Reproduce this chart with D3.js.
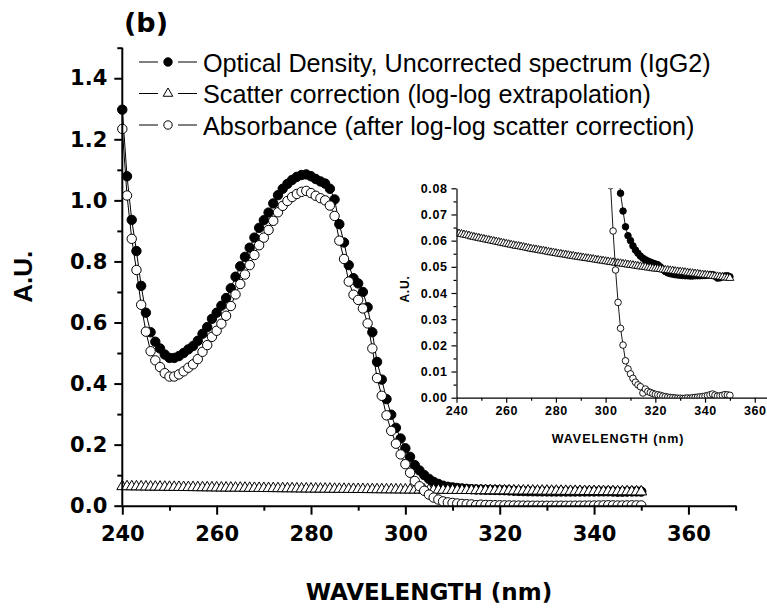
<!DOCTYPE html>
<html>
<head>
<meta charset="utf-8">
<script src="https://cdn.jsdelivr.net/npm/d3@7"></script>
<style>
  html, body { margin: 0; padding: 0; background: #fff; }
  svg { display: block; }
</style>
</head>
<body>
<svg id="chart" width="767" height="613"></svg>
<script>
// Wavelength grid (nm), one reading per nanometre
const wavelength = d3.range(240, 351);

// Optical density, uncorrected spectrum (IgG2)
const opticalDensity = [
  1.297, 1.079, 0.936, 0.834, 0.720, 0.632, 0.568, 0.537, 0.515, 0.495,
  0.484, 0.484, 0.490, 0.500, 0.512, 0.523, 0.540, 0.563, 0.585, 0.612,
  0.632, 0.655, 0.680, 0.712, 0.750, 0.784, 0.815, 0.845, 0.878, 0.910,
  0.935, 0.960, 0.990, 1.017, 1.038, 1.054, 1.067, 1.077, 1.083, 1.085,
  1.079, 1.070, 1.062, 1.055, 1.038, 1.003, 0.922, 0.862, 0.788, 0.745,
  0.728, 0.700, 0.650, 0.568, 0.471, 0.413, 0.349, 0.298, 0.255, 0.220,
  0.188, 0.160, 0.133, 0.1154, 0.1003, 0.0878, 0.0781, 0.0713, 0.0653, 0.0619,
  0.0600, 0.0580, 0.0564, 0.0552, 0.0541, 0.0533, 0.0527, 0.0522, 0.0518, 0.0514,
  0.0511, 0.0508, 0.0500, 0.0490, 0.0482, 0.0477, 0.0474, 0.0472, 0.0470, 0.0469,
  0.0468, 0.0467, 0.0466, 0.0466, 0.0465, 0.0465, 0.0466, 0.0466, 0.0466, 0.0467,
  0.0467, 0.0468, 0.0469, 0.0470, 0.0464, 0.0457, 0.0458, 0.0462, 0.0465, 0.0466, 0.0462
];

// Scatter correction (log-log extrapolation)
const scatterCorrection = [
  0.0629, 0.0627, 0.0625, 0.0623, 0.0621, 0.0619, 0.0616, 0.0614, 0.0612, 0.0610,
  0.0608, 0.0606, 0.0604, 0.0602, 0.0600, 0.0598, 0.0596, 0.0594, 0.0592, 0.0590,
  0.0588, 0.0586, 0.0584, 0.0582, 0.0580, 0.0579, 0.0577, 0.0575, 0.0573, 0.0571,
  0.0569, 0.0567, 0.0566, 0.0564, 0.0562, 0.0561, 0.0559, 0.0557, 0.0555, 0.0554,
  0.0552, 0.0550, 0.0549, 0.0547, 0.0546, 0.0544, 0.0542, 0.0541, 0.0539, 0.0538,
  0.0536, 0.0535, 0.0533, 0.0532, 0.0530, 0.0529, 0.0527, 0.0526, 0.0524, 0.0523,
  0.0521, 0.0520, 0.0518, 0.0517, 0.0515, 0.0514, 0.0513, 0.0511, 0.0510, 0.0508,
  0.0507, 0.0506, 0.0504, 0.0503, 0.0501, 0.0500, 0.0499, 0.0497, 0.0496, 0.0494,
  0.0493, 0.0492, 0.0491, 0.0489, 0.0488, 0.0487, 0.0486, 0.0485, 0.0483, 0.0482,
  0.0481, 0.0480, 0.0479, 0.0477, 0.0476, 0.0475, 0.0474, 0.0473, 0.0471, 0.0470,
  0.0469, 0.0468, 0.0467, 0.0465, 0.0464, 0.0463, 0.0462, 0.0461, 0.0459, 0.0458, 0.0457
];

// Absorbance after log-log scatter correction
const absorbance = [
  1.234, 1.016, 0.874, 0.772, 0.658, 0.570, 0.506, 0.476, 0.454, 0.434,
  0.423, 0.423, 0.430, 0.440, 0.452, 0.463, 0.480, 0.504, 0.526, 0.553,
  0.573, 0.596, 0.622, 0.654, 0.692, 0.726, 0.757, 0.788, 0.821, 0.853,
  0.878, 0.903, 0.933, 0.961, 0.982, 0.998, 1.011, 1.021, 1.028, 1.031,
  1.024, 1.015, 1.007, 1.000, 0.983, 0.949, 0.868, 0.808, 0.734, 0.691,
  0.674, 0.646, 0.597, 0.515, 0.418, 0.360, 0.296, 0.245, 0.203, 0.168,
  0.136, 0.108, 0.081, 0.0637, 0.0488, 0.0364, 0.0265, 0.0201, 0.0141, 0.0110,
  0.0091, 0.0074, 0.0059, 0.0049, 0.0042, 0.0018, 0.0033, 0.0024, 0.0020, 0.0016,
  0.0013, 0.0011, 0.0009, 0.0006, 0.0004, 0.0002, 0.0001, 0.0000, -0.0001, -0.0002,
  -0.0002, -0.0003, -0.0002, -0.0001, -0.0002, 0.0000, 0.0001, 0.0002, 0.0003, 0.0004,
  0.0006, 0.0008, 0.0011, 0.0014, 0.0010, 0.0006, 0.0007, 0.0009, 0.0012, 0.0011, 0.0009
];

const legendLabels = [
  "Optical Density, Uncorrected spectrum (IgG2)",
  "Scatter correction (log-log extrapolation)",
  "Absorbance (after log-log scatter correction)"
];

// Tick values
const mainXMajor = [240, 260, 280, 300, 320, 340, 360];
const mainXMinor = [250, 270, 290, 310, 330, 350, 370];
const mainYMajor = [0.0, 0.2, 0.4, 0.6, 0.8, 1.0, 1.2, 1.4];
const mainYMinor = [0.1, 0.3, 0.5, 0.7, 0.9, 1.1, 1.3, 1.5];
const insetXMajor = [240, 260, 280, 300, 320, 340, 360];
const insetXMinor = [250, 270, 290, 310, 330, 350, 370];
const insetYMajor = [0.00, 0.01, 0.02, 0.03, 0.04, 0.05, 0.06, 0.07, 0.08];
const insetYMinor = [0.005, 0.015, 0.025, 0.035, 0.045, 0.055, 0.065, 0.075];

const series = [
  { values: opticalDensity, marker: "filled" },
  { values: scatterCorrection, marker: "triangle" },
  { values: absorbance, marker: "open" }
];

const svg = d3.select("#chart");
const FONT_SANS = "'Liberation Sans', Arial, Helvetica, sans-serif";
const FONT_WIDE = "'DejaVu Sans', Verdana, sans-serif";

function styleAxis(g, width, font, size, spacing) {
  g.select(".domain").attr("stroke", "#000").attr("stroke-width", width);
  g.selectAll(".tick line").attr("stroke", "#000").attr("stroke-width", width);
  g.selectAll(".tick text")
    .attr("fill", "#000")
    .style("font-family", font)
    .style("font-weight", "bold")
    .style("font-size", size + "px")
    .style("letter-spacing", spacing + "px");
}

function drawPanel(cfg) {
  const { x, y, clipId, clipRect, r, triSize, lineWidth } = cfg;

  svg.append("defs").append("clipPath").attr("id", clipId)
    .append("rect")
    .attr("x", clipRect[0]).attr("y", clipRect[1])
    .attr("width", clipRect[2]).attr("height", clipRect[3]);

  const plot = svg.append("g").attr("clip-path", `url(#${clipId})`);
  const line = d3.line().x((d, i) => x(wavelength[i])).y(d => y(d));

  series.forEach(s => {
    const g = plot.append("g");
    g.append("path")
      .datum(s.values)
      .attr("d", line)
      .attr("fill", "none")
      .attr("stroke", "#000")
      .attr("stroke-width", lineWidth);

    if (s.marker === "triangle") {
      const sym = d3.symbol().type(d3.symbolTriangle).size(triSize);
      g.selectAll("path.m").data(s.values).join("path")
        .attr("class", "m")
        .attr("d", sym)
        .attr("transform", (d, i) => `translate(${x(wavelength[i])},${y(d)})`)
        .attr("fill", "#fff")
        .attr("stroke", "#000")
        .attr("stroke-width", lineWidth);
    } else {
      g.selectAll("circle").data(s.values).join("circle")
        .attr("cx", (d, i) => x(wavelength[i]))
        .attr("cy", d => y(d))
        .attr("r", r)
        .attr("fill", s.marker === "filled" ? "#000" : "#fff")
        .attr("stroke", "#000")
        .attr("stroke-width", lineWidth);
    }
  });
}

// ---------- Main panel ----------
const x = d3.scaleLinear().domain([240, 370]).range([122.3, 735.6]);
const y = d3.scaleLinear().domain([0, 1.5]).range([505.7, 47.7]);

drawPanel({
  x, y, clipId: "mainClip",
  clipRect: [0, 0, 767, y(0)],
  r: 4.7, triSize: 52, lineWidth: 1
});

const gxMinor = svg.append("g").attr("transform", `translate(0,${y(0)})`)
  .call(d3.axisBottom(x).tickValues(mainXMinor).tickSize(5).tickFormat(""));
gxMinor.select(".domain").remove();
styleAxis(gxMinor, 2, FONT_WIDE, 21, 0);

const gx = svg.append("g").attr("transform", `translate(0,${y(0)})`)
  .call(d3.axisBottom(x).tickValues(mainXMajor).tickSize(9).tickSizeOuter(0)
    .tickPadding(11).tickFormat(d3.format("d")));
styleAxis(gx, 2, FONT_WIDE, 21, 0);

const gyMinor = svg.append("g").attr("transform", `translate(${x(240)},0)`)
  .call(d3.axisLeft(y).tickValues(mainYMinor).tickSize(5).tickFormat(""));
gyMinor.select(".domain").remove();
styleAxis(gyMinor, 2, FONT_WIDE, 21, 0);

const gy = svg.append("g").attr("transform", `translate(${x(240)},0)`)
  .call(d3.axisLeft(y).tickValues(mainYMajor).tickSize(8).tickSizeOuter(0)
    .tickPadding(7).tickFormat(d3.format(".1f")));
gy.select(".domain").attr("d", `M0,${y(0)}V${y(1.5)}`);
styleAxis(gy, 2, FONT_WIDE, 21, 0);

svg.append("text")
  .attr("x", (x(240) + x(370)) / 2).attr("y", 600)
  .attr("text-anchor", "middle")
  .style("font-family", FONT_WIDE).style("font-weight", "bold").style("font-size", "23px")
  .text("WAVELENGTH (nm)");

svg.append("text")
  .attr("transform", `translate(32,${(y(0) + y(1.5)) / 2}) rotate(-90)`)
  .attr("text-anchor", "middle")
  .style("font-family", FONT_SANS).style("font-weight", "bold").style("font-size", "26px")
  .text("A.U.");

svg.append("text")
  .attr("x", 124).attr("y", 32)
  .style("font-family", FONT_WIDE).style("font-weight", "bold").style("font-size", "27px")
  .text("(b)");

// ---------- Legend ----------
const legendRows = [71.5, 103, 134.5];
const legend = svg.append("g");
series.forEach((s, i) => {
  const by = legendRows[i];
  const cy = by - 9.5;
  const row = legend.append("g");
  [[139, 158], [178, 197]].forEach(([a, b]) => {
    row.append("line")
      .attr("x1", a).attr("x2", b).attr("y1", cy).attr("y2", cy)
      .attr("stroke", "#000").attr("stroke-width", 1);
  });
  if (s.marker === "triangle") {
    row.append("path")
      .attr("d", d3.symbol().type(d3.symbolTriangle).size(40)())
      .attr("transform", `translate(168,${cy})`)
      .attr("fill", "#fff").attr("stroke", "#000").attr("stroke-width", 1);
  } else {
    row.append("circle")
      .attr("cx", 168).attr("cy", cy).attr("r", 4.2)
      .attr("fill", s.marker === "filled" ? "#000" : "#fff")
      .attr("stroke", "#000").attr("stroke-width", 1);
  }
  row.append("text")
    .attr("x", 203).attr("y", by)
    .style("font-family", FONT_SANS).style("font-size", "25.2px")
    .text(legendLabels[i]);
});

// ---------- Inset panel ----------
const xi = d3.scaleLinear().domain([240, 370]).range([456.5, 779.6]);
const yi = d3.scaleLinear().domain([0, 0.08]).range([397.7, 188.3]);

drawPanel({
  x: xi, y: yi, clipId: "insetClip",
  clipRect: [xi(240), yi(0.08), xi(370) - xi(240), yi(0) - yi(0.08)],
  r: 3.3, triSize: 28, lineWidth: 0.9
});

const gxiMinor = svg.append("g").attr("transform", `translate(0,${yi(0)})`)
  .call(d3.axisBottom(xi).tickValues(insetXMinor).tickSize(3).tickFormat(""));
gxiMinor.select(".domain").remove();
styleAxis(gxiMinor, 1.2, FONT_SANS, 12.5, 0.6);

const gxi = svg.append("g").attr("transform", `translate(0,${yi(0)})`)
  .call(d3.axisBottom(xi).tickValues(insetXMajor).tickSize(5).tickSizeOuter(0)
    .tickPadding(3).tickFormat(d3.format("d")));
styleAxis(gxi, 1.2, FONT_SANS, 12.5, 0.6);

const gyiMinor = svg.append("g").attr("transform", `translate(${xi(240)},0)`)
  .call(d3.axisLeft(yi).tickValues(insetYMinor).tickSize(3).tickFormat(""));
gyiMinor.select(".domain").remove();
styleAxis(gyiMinor, 1.2, FONT_SANS, 12.5, 0.6);

const gyi = svg.append("g").attr("transform", `translate(${xi(240)},0)`)
  .call(d3.axisLeft(yi).tickValues(insetYMajor).tickSize(5).tickSizeOuter(0)
    .tickPadding(4).tickFormat(d3.format(".2f")));
styleAxis(gyi, 1.2, FONT_SANS, 12.5, 0.6);

svg.append("text")
  .attr("x", (xi(240) + xi(370)) / 2).attr("y", 443)
  .attr("text-anchor", "middle")
  .style("font-family", FONT_SANS).style("font-weight", "bold").style("font-size", "12.5px")
  .style("letter-spacing", "1px")
  .text("WAVELENGTH (nm)");

svg.append("text")
  .attr("transform", `translate(409,${(yi(0) + yi(0.08)) / 2 - 4}) rotate(-90)`)
  .attr("text-anchor", "middle")
  .style("font-family", FONT_SANS).style("font-weight", "bold").style("font-size", "12px")
  .style("letter-spacing", "0.8px")
  .text("A.U.");
</script>
</body>
</html>
